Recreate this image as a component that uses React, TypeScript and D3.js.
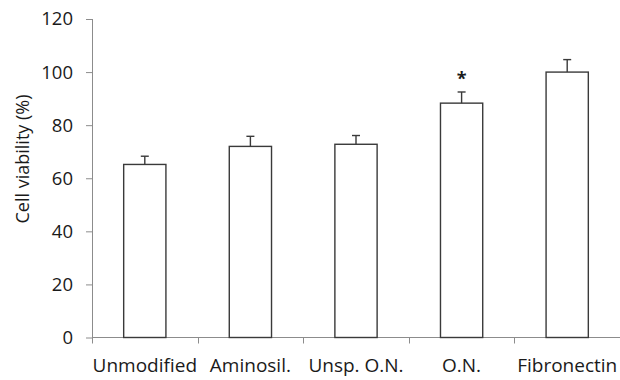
import React, { useEffect, useRef } from 'react';
import * as d3 from 'd3';

const categories = ['Unmodified', 'Aminosil.', 'Unsp. O.N.', 'O.N.', 'Fibronectin'];
const viability = [65.2, 72.0, 72.8, 88.3, 100];
const errors = [3.1, 3.8, 3.3, 4.2, 4.7];
const significance = ['', '', '', '*', ''];
const yTicks = [0, 20, 40, 60, 80, 100, 120];

const WIDTH = 620;
const HEIGHT = 380;
const FONT = '"Open Sans", sans-serif';

const App = () => {
  const ref = useRef<SVGSVGElement>(null);

  useEffect(() => {
    const svg = d3.select(ref.current);
    svg.selectAll('*').remove();

    const x0 = 92;
    const x1 = 620;
    const yBottom = 337.5;
    const yTop = 19;

    const x = d3.scaleBand<string>()
      .domain(categories)
      .range([x0, x1])
      .paddingInner(0.6)
      .paddingOuter(0.3);
    const y = d3.scaleLinear().domain([0, 120]).range([yBottom, yTop]);

    // y axis
    const yAxis = svg.append('g')
      .attr('transform', `translate(${x0},0)`)
      .call(d3.axisLeft(y).tickValues(yTicks).tickSizeOuter(0).tickSize(6).tickPadding(13));
    yAxis.select('.domain').attr('stroke', '#8c8c8c').attr('d', `M0.5,${yBottom}V${yTop}`);
    yAxis.selectAll('.tick line').attr('stroke', '#8c8c8c');
    yAxis.selectAll('.tick text')
      .attr('fill', '#1a1a1a')
      .style('font-family', FONT)
      .style('font-size', '18.5px');

    // x axis: category boundary ticks
    const step = x.step();
    const bounds = d3.range(categories.length + 1).map(i => x0 + i * step);
    const xg = svg.append('g');
    xg.append('line')
      .attr('x1', x0).attr('x2', WIDTH)
      .attr('y1', yBottom).attr('y2', yBottom)
      .attr('stroke', '#8c8c8c');
    xg.selectAll('line.tk')
      .data(bounds)
      .enter()
      .append('line')
      .attr('class', 'tk')
      .attr('x1', d => Math.round(d) + 0.5).attr('x2', d => Math.round(d) + 0.5)
      .attr('y1', yBottom).attr('y2', yBottom + 6)
      .attr('stroke', '#8c8c8c');
    xg.selectAll('text')
      .data(categories)
      .enter()
      .append('text')
      .attr('x', d => (x(d) as number) + x.bandwidth() / 2)
      .attr('y', 372)
      .attr('text-anchor', 'middle')
      .attr('fill', '#1a1a1a')
      .style('font-family', FONT)
      .style('font-size', '19px')
      .text(d => d);

    // bars
    svg.append('g')
      .selectAll('rect')
      .data(categories)
      .enter()
      .append('rect')
      .attr('x', d => x(d) as number)
      .attr('y', (d, i) => y(viability[i]))
      .attr('width', x.bandwidth())
      .attr('height', (d, i) => yBottom - y(viability[i]))
      .attr('fill', '#fff')
      .attr('stroke', '#3a3a3a')
      .attr('stroke-width', 1.4);

    // error bars
    const eb = svg.append('g').attr('stroke', '#3a3a3a').attr('stroke-width', 1.4);
    categories.forEach((c, i) => {
      const cx = (x(c) as number) + x.bandwidth() / 2;
      eb.append('line')
        .attr('x1', cx).attr('x2', cx)
        .attr('y1', y(viability[i])).attr('y2', y(viability[i] + errors[i]));
      eb.append('line')
        .attr('x1', cx - 4).attr('x2', cx + 4)
        .attr('y1', y(viability[i] + errors[i])).attr('y2', y(viability[i] + errors[i]));
    });

    // significance markers
    svg.append('g')
      .selectAll('text')
      .data(categories)
      .enter()
      .append('text')
      .attr('x', d => (x(d) as number) + x.bandwidth() / 2)
      .attr('y', (d, i) => y(viability[i] + errors[i]) - 7)
      .attr('text-anchor', 'middle')
      .attr('fill', '#1a1a1a')
      .style('font-family', FONT)
      .style('font-size', '18px')
      .style('font-weight', 'bold')
      .text((d, i) => significance[i]);

    // y label
    svg.append('text')
      .attr('transform', 'translate(29,159) rotate(-90)')
      .attr('text-anchor', 'middle')
      .attr('fill', '#1a1a1a')
      .style('font-family', FONT)
      .style('font-size', '18px')
      .text('Cell viability (%)');
  }, []);

  return (
    <svg
      ref={ref}
      width={WIDTH}
      height={HEIGHT}
      style={{ position: 'absolute', left: 0, top: 0, background: '#fff' }}
    />
  );
};

export default App;
